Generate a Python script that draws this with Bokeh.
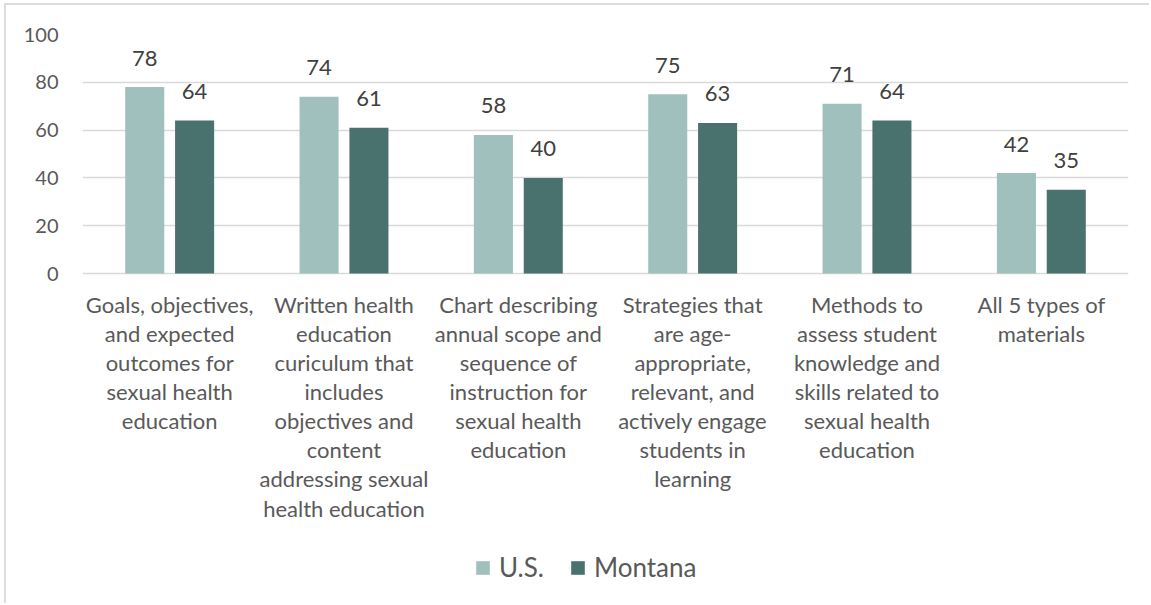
from bokeh.plotting import figure
from bokeh.models import ColumnDataSource, FactorRange, Range1d, Legend, LegendItem
from bokeh.transform import dodge
from bokeh.core.properties import value
from bokeh.embed import file_html
from bokeh.resources import INLINE

categories = [
    "Goals, objectives,\nand expected\noutcomes for\nsexual health\neducation",
    "Written health\neducation\ncuriculum that\nincludes\nobjectives and\ncontent\naddressing sexual\nhealth education",
    "Chart describing\nannual scope and\nsequence of\ninstruction for\nsexual health\neducation",
    "Strategies that\nare age-\nappropriate,\nrelevant, and\nactively engage\nstudents in\nlearning",
    "Methods to\nassess student\nknowledge and\nskills related to\nsexual health\neducation",
    "All 5 types of\nmaterials",
]
us_values = [78, 74, 58, 75, 71, 42]
montana_values = [64, 61, 40, 63, 64, 35]
series_names = ["U.S.", "Montana"]
y_ticks = [0, 20, 40, 60, 80, 100]

US_COLOR = "#A0C0BE"
MT_COLOR = "#49726F"
FONT = "Lato"

src = ColumnDataSource(dict(
    cat=categories,
    us=us_values,
    mt=montana_values,
    us_lbl=[str(v) for v in us_values],
    mt_lbl=[str(v) for v in montana_values],
    base=[0] * len(categories),
))

# geometry (canvas pixels)
W, H = 1145, 600
LEFT, RIGHT, TOP = 76, 1122, 29
PX_PER_UNIT = 2.39
y_start = 100 - (H - TOP) / PX_PER_UNIT

p = figure(
    x_range=FactorRange(factors=categories, range_padding=0, factor_padding=0),
    y_range=Range1d(y_start, 100),
    width=W, height=H,
    output_backend="svg", toolbar_location=None,
    min_border_left=LEFT, min_border_right=W - RIGHT, min_border_top=TOP, min_border_bottom=0,
    styles={"margin-left": "4px", "margin-top": "3px",
            "border-left": "2px solid #DCDCDC", "border-top": "2px solid #DCDCDC"},
)

OFF = 0.143
BW = 0.224
r1 = p.vbar(x=dodge("cat", -OFF, range=p.x_range), top="us", width=BW, source=src,
            fill_color=US_COLOR, line_color=None)
r2 = p.vbar(x=dodge("cat", OFF, range=p.x_range), top="mt", width=BW, source=src,
            fill_color=MT_COLOR, line_color=None)

for col, lbl, off in (("us", "us_lbl", -OFF), ("mt", "mt_lbl", OFF)):
    p.text(x=dodge("cat", off, range=p.x_range), y=col, text=lbl, source=src,
           text_align="center", text_baseline="alphabetic", y_offset=-29,
           text_font=value(FONT), text_font_size="22px", text_color="#404040")

# category labels under the zero line
p.text(x="cat", y="base", text="cat", source=src,
       text_align="center", text_baseline="top", y_offset=17,
       text_line_height=1.08,
       text_font=value(FONT), text_font_size="22px", text_color="#595959")

legend = Legend(
    items=[LegendItem(label=series_names[0], renderers=[r1]),
           LegendItem(label=series_names[1], renderers=[r2])],
    orientation="horizontal", location=(392, 22),
    glyph_width=17, glyph_height=17, label_standoff=8, spacing=25,
    padding=0, margin=0, border_line_color=None, background_fill_alpha=0,
    label_text_font=FONT, label_text_font_size="26px", label_text_color="#595959",
)
p.add_layout(legend)

p.ygrid.grid_line_color = "#D9D9D9"
p.ygrid.grid_line_width = 1.3
p.xgrid.grid_line_color = None
p.outline_line_color = None
p.xaxis.visible = False

p.yaxis.ticker = y_ticks
p.yaxis.axis_line_color = None
p.yaxis.major_tick_line_color = None
p.yaxis.minor_tick_line_color = None
p.yaxis.major_label_standoff = 18
p.yaxis.major_label_text_font = FONT
p.yaxis.major_label_text_font_size = "20px"
p.yaxis.major_label_text_color = "#595959"

open("out.html", "w").write(file_html(p, INLINE))
